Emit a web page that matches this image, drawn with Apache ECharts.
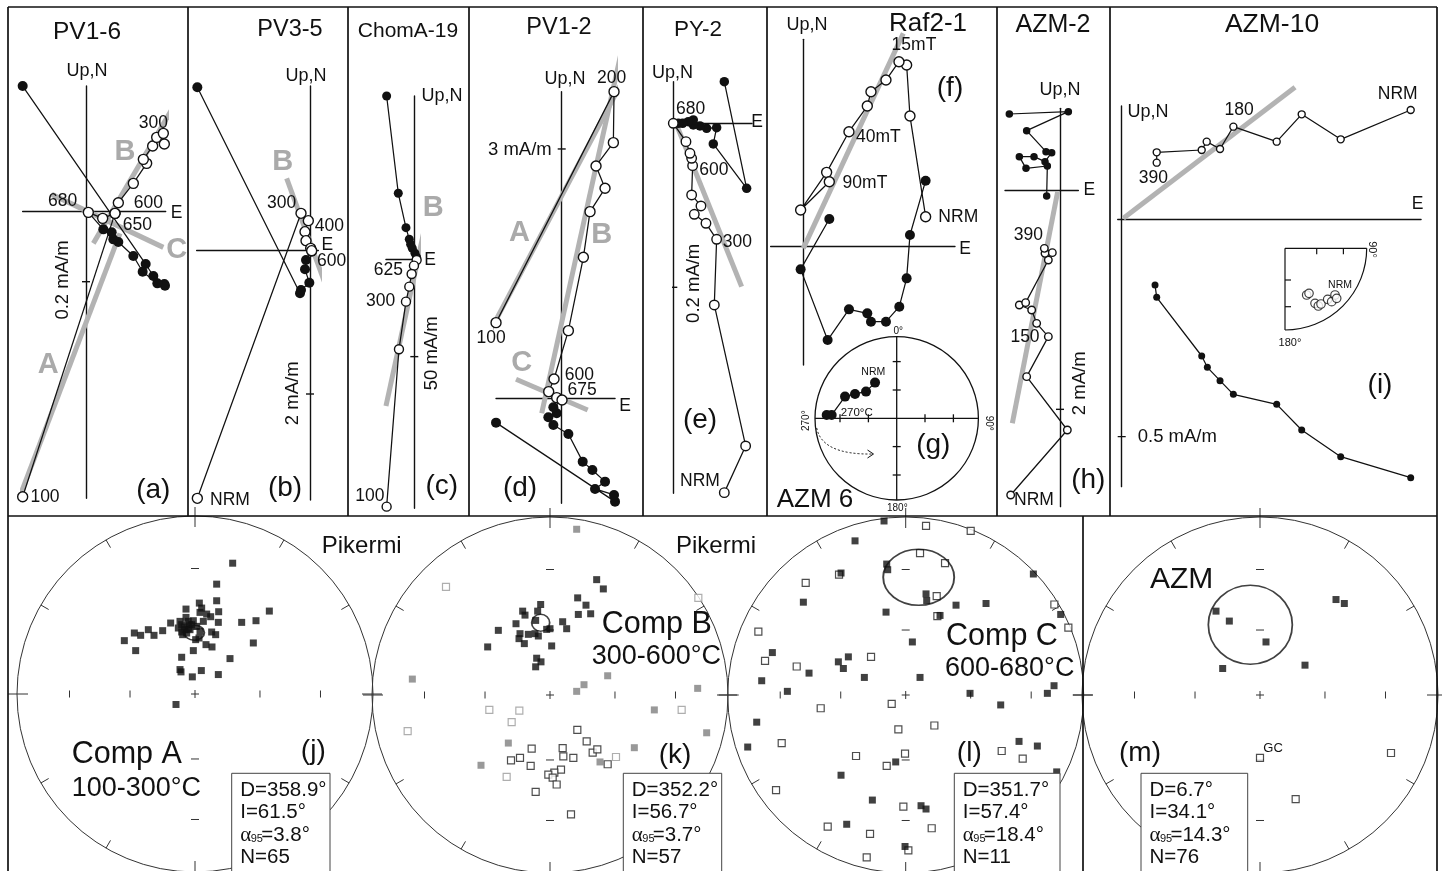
<!DOCTYPE html>
<html><head><meta charset="utf-8">
<script src="https://cdn.jsdelivr.net/npm/echarts@6/dist/echarts.min.js"></script>
<style>html,body{margin:0;padding:0;background:#fff}#c{width:1442px;height:871px}</style>
</head><body><div id="c"></div>
<script>
// ---------- Zijderveld data (relative intensity units, origin = axis crossing) ----------
const pv16Filled = [[[-190,377],[179,-157],[202,-193],[235,-217],[237,-222],[214,-215],[170,-180],[142,-133],[97,-91],[82,-83],[77,-62],[52,-53],[7,-2]]];
const pv16Open = [[[-190,-855],[87,-5]],[[7,-2],[50,-20],[87,-5],[97,27],[142,85],[182,145],[172,157],[200,197],[212,223],[232,235],[235,203]]];
const pv16Gray = [[[-218,-905],[102,-65]],[[22,-95],[277,340]],[[-103,52],[232,-107]]];
const pv16Labels = [[202,265,'300'],[187,25,'600'],[-70,33,'680'],[154,-40,'650'],[-123,-855,'100'],[272,-5,'E']];
const pv16Letters = [[-113,-460,'A'],[117,180,'B'],[272,-115,'C']];

const pv35Filled = [[[-338,488],[-30,-130],[-27,-120],[-2,-98],[-15,-58],[-12,-30],[5,-5]]];
const pv35Open = [[[-338,-745],[-27,110],[-5,88],[-15,55],[-12,28],[2,5],[5,-2]]];
const pv35Gray = [[[-70,215],[65,-155]]];
const pv35Labels = [[-85,140,'300'],[58,70,'400'],[65,-35,'600'],[52,15,'E'],[-240,-750,'NRM']];
const pv35Letters = [[-82,265,'B']];

const chomFilled = [[[-83,490],[-48,198],[-25,95],[-15,60],[-11,45],[-6,33],[2,18],[7,6]]];
const chomOpen = [[[7,-2],[-1,-19],[-8,-44],[-15,-82],[-25,-127],[-46,-270],[-83,-742]]];
const chomGray = [[[32,98],[-85,-440]]];
const chomLabels = [[-78,-34,'625'],[-101,-127,'300'],[-133,-710,'100'],[47,-4,'E']];
const chomLetters = [[57,153,'B']];

const pv12Open = [[[-197,227],[157,920],[155,767],[103,697],[130,630],[85,560],[65,423],[20,203],[-23,58],[-39,20],[-15,2],[1,-5]]];
const pv12Filled = [[[-197,-73],[160,-310],[157,-290],[100,-272],[130,-250],[92,-215],[63,-190],[20,-107],[-25,-80],[-40,-57],[-15,-45],[-25,-27],[1,-5]]];
const pv12Gray = [[[-245,145],[200,985]],[[-60,-45],[180,1045]],[[-137,57],[78,-35]]];
const pv12Labels = [[150,960,'200'],[-212,180,'100'],[53,68,'600'],[61,23,'675'],[190,-25,'E']];
const pv12Letters = [[-127,495,'A'],[120,490,'B'],[-120,105,'C']];

const py2Filled = [[[153,125],[220,-195],[120,-62],[130,-13],[100,-15],[80,-8],[60,-5],[60,10],[45,5],[28,0],[15,0],[0,0]]];
const py2Open = [[[153,-1108],[217,-968],[123,-545],[130,-348],[98,-300],[63,-273],[83,-248],[55,-215],[58,-127],[55,-105],[50,-90],[38,-55],[0,0]]];
const py2Gray = [[[10,-5],[205,-490]]];
const py2Labels = [[52,42,'680'],[122,-140,'600'],[192,-358,'300'],[80,-1075,'NRM'],[251,4,'E']];

const rafOpen = [[[367,90],[320,392],[310,545],[287,555],[248,500],[203,465],[192,422],[137,345],[70,223],[-8,110],[78,195]]];
const rafFilled = [[[367,198],[320,35],[310,-95],[288,-180],[248,-225],[203,-225],[192,-200],[137,-188],[73,-280],[-8,-68],[78,83]]];
const rafGray = [[[300,640],[0,-5]]];
const rafLabels = [[332,605,'15mT'],[225,330,'40mT'],[185,192,'90mT'],[465,90,'NRM'],[485,-8,'E']];

const azm2Filled = [[[-152,228],[25,235],[-100,178],[-42,115],[-25,112],[-45,85],[-78,100],[-122,100],[-102,65],[-38,72],[-40,-18]]];
const azm2Open = [[[-148,-915],[22,-720],[-100,-560],[-35,-440],[-70,-400],[-85,-360],[-122,-345],[-103,-338],[-35,-210],[-45,-190],[-23,-188],[-47,-175]]];
const azm2Gray = [[[-143,-700],[-7,-5]]];
const azm2Labels = [[-95,-135,'390'],[-105,-442,'150'],[-78,-930,'NRM'],[88,-2,'E']];

const azm10Open = [[[867,327],[657,239],[540,314],[465,232],[335,277],[295,210],[255,232],[240,207],[105,200],[105,169]]];
const azm10Filled = [[[100,-198],[105,-235],[240,-411],[257,-445],[295,-485],[335,-526],[465,-556],[540,-633],[657,-713],[867,-776]]];
const azm10Gray = [[[5,2],[520,395]]];
const azm10Labels = [[828,374,'NRM'],[352,327,'180'],[95,122,'390'],[888,45,'E']];

// insets
const azm6Dirs = [[-65,107],[-92,80],[-125,73],[-155,65],[-195,10],[-210,10]];
const azm10Dirs = [[65,-140],[72,-135],[90,-165],[100,-173],[108,-167],[128,-153],[140,-160],[150,-140],[155,-150]];

// ---------- Stereonet data (projected units, centre = 0) ----------
const jFilled = [[113,392],[65,329],[65,279],[13,272],[20,257],[-27,254],[15,244],[35,239],[71,246],[223,248],[47,231],[25,217],[70,214],[140,214],[183,219],[-73,212],[-27,229],[-40,207],[-20,217],[-10,207],[5,202],[-30,192],[-15,192],[-40,185],[-25,182],[15,187],[-97,189],[-140,192],[-123,175],[-163,175],[-182,182],[-212,159],[-178,129],[50,185],[62,177],[12,167],[2,162],[-37,177],[33,147],[51,140],[-5,129],[175,152],[-40,109],[105,105],[-45,72],[-42,65],[19,69],[-8,50],[70,57],[-57,-33],[-50,197],[-5,219],[-17,207],[-45,217],[-32,200],[-20,195]];
const jMean = [[-2,183]];
const kFilled = [[140,345],[160,317],[83,290],[108,268],[85,240],[122,242],[-28,270],[-37,250],[-82,250],[-75,238],[-43,222],[-102,212],[38,218],[50,197],[0,197],[-10,195],[-155,192],[-90,182],[-65,180],[-45,182],[-35,175],[-93,167],[-77,152],[-187,142],[5,145],[-40,108],[-27,97],[-43,82]];
const kGray = [[80,497],[-413,45],[173,55],[102,28],[80,8],[443,17],[313,-48],[470,-117],[-125,-148],[253,-162],[-207,-215],[150,-205]];
const kOpenLight = [[-312,323],[445,290],[-182,-48],[-92,-50],[-115,-85],[-427,-112],[395,-48],[-130,-250],[198,-190]];
const kOpenDark = [[82,-108],[110,-143],[128,-177],[142,-167],[38,-163],[40,-188],[70,-193],[-117,-200],[-90,-193],[-55,-165],[-58,-217],[33,-228],[13,-237],[-5,-243],[8,-252],[20,-273],[-43,-295],[63,-363],[173,-212]];
const kMean = [[-28,215]];
const lFilled = [[-65,522],[-152,462],[-194,365],[-57,392],[-54,375],[383,362],[61,302],[63,282],[-307,277],[151,268],[241,273],[-59,247],[465,240],[103,237],[20,157],[-400,125],[-202,97],[-172,112],[-187,77],[-290,63],[-432,40],[-124,50],[43,50],[-355,8],[193,2],[445,25],[425,2],[285,-33],[-447,-85],[-474,-160],[340,-143],[395,-157],[-30,-205],[-194,-245],[-100,-320],[46,-337],[61,-347],[-177,-393],[-2,-460],[453,-235]];
const lOpen = [[61,507],[195,492],[43,425],[118,395],[-200,360],[-300,335],[93,295],[446,270],[95,235],[488,200],[-442,188],[-422,100],[-327,83],[-104,112],[-255,-43],[-42,-30],[86,-95],[-22,-107],[-372,-148],[288,-172],[351,-195],[-149,-187],[-2,-180],[-57,-217],[-389,-290],[-7,-340],[-234,-400],[-107,-422],[78,-405],[-117,-493],[8,-472]];
const lMean = [[39,352]];
const mFilled = [[228,285],[253,273],[-132,250],[-92,220],[18,157],[-112,77],[135,87]];
const mOpen = [[0,-193],[393,-178],[107,-317]];
const mMean = [[-29,209]];

const statsJ = ['D=358.9°','I=61.5°','=3.8°','N=65'];
const statsK = ['D=352.2°','I=56.7°','=3.7°','N=57'];
const statsL = ['D=351.7°','I=57.4°','=18.4°','N=11'];
const statsM = ['D=6.7°','I=34.1°','=14.3°','N=76'];

// ---------- build ----------
const K = 1/3;
const FF = '"Liberation Sans", Arial, sans-serif';
const LBL = 17.5, SCL = 18.5, UPN = 18, LET = 28;
const grids=[], xAxes=[], yAxes=[], series=[], G=[];

function addGrid(left, top, w, h, xr, yr, showAxes){
  const i = grids.length;
  grids.push({left, top, width:w, height:h, containLabel:false});
  const ax = r => ({type:'value', gridIndex:i, min:r[0], max:r[1],
    axisLine:{show:showAxes, onZero:true, lineStyle:{color:'#111', width:1.4}},
    axisTick:{show:false}, axisLabel:{show:false}, splitLine:{show:false}});
  xAxes.push(ax(xr)); yAxes.push(ax(yr));
  return i;
}
function poly(gi, data, kind, sym){
  const s = {type:'line', xAxisIndex:gi, yAxisIndex:gi, data, clip:false, animation:false, silent:true, showAllSymbol:true};
  if(kind==='gray'){ Object.assign(s,{symbol:'none', lineStyle:{color:'#b3b3b3', width:5}, z:1}); }
  else if(kind==='plain'){ Object.assign(s,{symbol:'none', lineStyle:{color:'#111', width:1.4}, z:2}); }
  else if(kind==='open'){ Object.assign(s,{symbol:'circle', symbolSize:sym, lineStyle:{color:'#111', width:1.25}, itemStyle:{color:'#fff', borderColor:'#111', borderWidth:1.4}, z:4}); }
  else { Object.assign(s,{symbol:'circle', symbolSize:sym, lineStyle:{color:'#111', width:1.25}, itemStyle:{color:'#111'}, z:3}); }
  series.push(s);
}
function scat(gi, data, fill, stroke, size, sym){
  series.push({type:'scatter', xAxisIndex:gi, yAxisIndex:gi, data, symbol:sym||'rect', symbolSize:size,
    itemStyle:{color:fill, borderColor:stroke||fill, borderWidth:stroke?1.2:0}, clip:false, silent:true, animation:false, z:3});
}
function txt(x, y, s, size, o){
  o = o||{};
  G.push({type:'text', x, y, rotation:o.rot||0, z:o.z||50, silent:true,
    style:{text:s, font:(o.bold?'bold ':'')+size+'px '+(o.family||FF), fill:o.color||'#111',
      align:o.align||'center', verticalAlign:'middle', textAlign:o.align||'center', textVerticalAlign:'middle'}});
}
function seg(x1,y1,x2,y2,w,c,z){ G.push({type:'line', silent:true, z:z||1, shape:{x1,y1,x2,y2}, style:{stroke:c||'#111', lineWidth:w||1.3}}); }

const zij = [
 {o:[86,211.7], xr:[-190,239], yr:[-860,377], tick:-210, sym:10, f:pv16Filled, op:pv16Open, g:pv16Gray, lb:pv16Labels, lt:pv16Letters},
 {o:[310,250], xr:[-340,25], yr:[-750,492], tick:-432, sym:10, f:pv35Filled, op:pv35Open, g:pv35Gray, lb:pv35Labels, lt:pv35Letters},
 {o:[414.3,259.3], xr:[-85,10], yr:[-747,490], tick:-292, sym:9, f:chomFilled, op:chomOpen, g:chomGray, lb:chomLabels, lt:chomLetters},
 {o:[561.7,398.3], xr:[-197,160], yr:[-315,920], tick:748, sym:10, f:pv12Filled, op:pv12Open, g:pv12Gray, lb:pv12Labels, lt:pv12Letters},
 {o:[673.3,123.3], xr:[0,236], yr:[-1110,125], tick:-492, sym:9.5, f:py2Filled, op:py2Open, g:py2Gray, lb:py2Labels, lt:[]},
 {o:[803.3,246.7], xr:[-98,455], yr:[-355,622], tick:null, sym:10, f:rafFilled, op:rafOpen, g:rafGray, lb:rafLabels, lt:[]},
 {o:[1060,190], xr:[-165,55], yr:[-950,245], tick:-658, sym:7.5, f:azm2Filled, op:azm2Open, g:azm2Gray, lb:azm2Labels, lt:[]},
 {o:[1121.7,219], xr:[-12,898], yr:[-803,339], tick:-653, sym:7, f:azm10Filled, op:azm10Open, g:azm10Gray, lb:azm10Labels, lt:[]}
];
zij.forEach(p=>{
  const [ox,oy] = p.o;
  const gi = addGrid(ox+p.xr[0]*K, oy-p.yr[1]*K, (p.xr[1]-p.xr[0])*K, (p.yr[1]-p.yr[0])*K, p.xr, p.yr, true);
  p.g.forEach(s=>poly(gi,s,'gray'));
  if(p.tick!==null) poly(gi,[[-12,p.tick],[12,p.tick]],'plain');
  p.f.forEach(s=>poly(gi,s,'filled',p.sym));
  p.op.forEach(s=>poly(gi,s,'open',p.sym));
  p.lb.forEach(([x,y,t])=>txt(ox+x*K, oy-y*K, t, LBL));
  p.lt.forEach(([x,y,t])=>txt(ox+x*K, oy-y*K, t, 29, {color:'#aaa', bold:true}));
});

// titles, axis names, scale labels, panel letters
[['PV1-6',87,32,24.5],['PV3-5',290,30,23.5],['ChomA-19',408,31,21],['PV1-2',559,28,23.5],['PY-2',698,30,22.5],['Raf2-1',928,24,26],['AZM-2',1053,25,25],['AZM-10',1272,25,26.5]]
 .forEach(([t,x,y,s])=>txt(x,y,t,s));
[[87,71],[306,76],[442,96],[565,79],[672.5,72.7],[807,25],[1060,90],[1148,112]].forEach(([x,y])=>txt(x,y,'Up,N',UPN));
txt(63.3,280,'0.2 mA/m',SCL,{rot:Math.PI/2});
txt(293.3,393.3,'2 mA/m',SCL,{rot:Math.PI/2});
txt(431.7,353.3,'50 mA/m',SCL,{rot:Math.PI/2});
txt(551.7,150,'3 mA/m',SCL,{align:'right'});
txt(694.3,283.3,'0.2 mA/m',SCL,{rot:Math.PI/2});
txt(1080,383.3,'2 mA/m',SCL,{rot:Math.PI/2});
txt(1137.7,436.7,'0.5 mA/m',SCL,{align:'left'});
[['(a)',153.3,490],['(b)',285,488.3],['(c)',441.7,486.7],['(d)',520,488.3],['(e)',700,420.7],['(f)',950,88.3],['(h)',1088.3,480],['(i)',1380,385]]
 .forEach(([t,x,y])=>txt(x,y,t,LET));

// inset (g) stereonet
(function(){
  const cx=896.7, cy=418.3, r=81.7;
  G.push({type:'circle', silent:true, z:1, shape:{cx,cy,r}, style:{fill:'#fff', stroke:'#111', lineWidth:1.3}});
  seg(cx,cy-r,cx,cy+r,1.3); seg(cx-r,cy,cx+r,cy,1.3);
  [28.3,56.7].forEach(d=>{ [1,-1].forEach(sg=>{ seg(cx-4,cy+sg*d,cx+4,cy+sg*d,1.3); seg(cx+sg*d,cy-4,cx+sg*d,cy+4,1.3); }); });
  const gi = addGrid(cx-r, cy-r, 2*r, 2*r, [-245,245], [-245,245], false);
  poly(gi, azm6Dirs, 'filled', 10);
  txt(898.3,331.5,'0°',10); txt(897.3,508.5,'180°',10);
  txt(806,420.7,'270°',10,{rot:Math.PI/2}); txt(988.3,423.3,'90°',10,{rot:-Math.PI/2});
  txt(873.3,371.7,'NRM',10.5); txt(856.7,412.7,'270°C',11.5);
  txt(933.3,445,'(g)',LET); txt(815,500,'AZM 6',26);
  G.push({type:'bezierCurve', silent:true, z:2, shape:{x1:816.7,y1:428,cpx1:822,cpy1:455,x2:873,y2:454}, style:{stroke:'#111', lineWidth:1, lineDash:[2,2], fill:null}});
  G.push({type:'polyline', silent:true, z:2, shape:{points:[[867.5,450],[873.5,454],[867.5,458]]}, style:{stroke:'#111', lineWidth:1, fill:null}});
})();

// inset in (i)
(function(){
  const x0=1285, y0=248.3, r=81.7;
  seg(x0,y0,x0,y0+r,1.2); seg(x0,y0,x0+r,y0,1.2);
  G.push({type:'arc', silent:true, z:1, shape:{cx:x0,cy:y0,r,startAngle:0,endAngle:Math.PI/2,clockwise:true}, style:{stroke:'#111', lineWidth:1.2, fill:null}});
  [31.7,58.4].forEach(d=>{ seg(x0,y0+d,x0+6,y0+d,1.2); seg(x0+d,y0,x0+d,y0+6,1.2); });
  const gi = addGrid(x0, y0, r, r, [0,245], [-245,0], false);
  scat(gi, azm10Dirs, '#fff', '#111', 8.5, 'circle');
  txt(1340,285,'NRM',10.5); txt(1372,249.5,'90°',11,{rot:-Math.PI/2}); txt(1290,343.3,'180°',11);
})();

// bottom stereonets
const R = 178;
function net(cx, cy){
  G.push({type:'circle', silent:true, z:0, shape:{cx,cy,r:R}, style:{fill:'none', stroke:'#333', lineWidth:1}});
  for(let a=0;a<360;a+=30){
    const t=a*Math.PI/180, s=Math.sin(t), c=-Math.cos(t);
    const card = a%90===0;
    const r1 = card? R-11 : R-9, r2 = card? R+9 : R;
    seg(cx+s*r1, cy+c*r1, cx+s*r2, cy+c*r2, 1, '#333', 1);
  }
  [0.365,0.705].forEach(f=>{ const d=f*R; [1,-1].forEach(sg=>{
    seg(cx+sg*d, cy-3.5, cx+sg*d, cy+3.5, 1, '#333', 1);
    seg(cx-4, cy+sg*d, cx+4, cy+sg*d, 1, '#333', 1);
  }); });
  seg(cx-4,cy,cx+4,cy,1,'#333',1); seg(cx,cy-4,cx,cy+4,1,'#333',1);
  return addGrid(cx-R, cy-R, 2*R, 2*R, [-534,534], [-534,534], false);
}
function ellipse(gi, data, size){
  series.push({type:'scatter', xAxisIndex:gi, yAxisIndex:gi, data, symbol:'circle', symbolSize:size,
    itemStyle:{color:'rgba(0,0,0,0)', borderColor:'#111', borderWidth:1.7}, clip:false, silent:true, animation:false, z:5});
}
function stats(L, w, lines){
  G.push({type:'rect', silent:true, z:60, shape:{x:L, y:773.3, width:w, height:110}, style:{fill:'#fff', stroke:'#444', lineWidth:1}});
  const x = L+8.5;
  txt(x, 790, lines[0], 20.5, {align:'left', z:61});
  txt(x, 812, lines[1], 20.5, {align:'left', z:61});
  txt(x, 835, 'α', 21, {align:'left', z:61, family:'"Liberation Serif", "DejaVu Serif", serif'});
  txt(x+10.5, 839, '95', 11, {align:'left', z:61});
  txt(x+21, 835, lines[2], 20.5, {align:'left', z:61});
  txt(x, 857, lines[3], 20.5, {align:'left', z:61});
}

let gi;
gi = net(195,694);
scat(gi, jFilled, '#111', null, 7);
ellipse(gi, jMean, [20,15]);
gi = net(550,695);
scat(gi, kGray, '#808080', null, 7);
scat(gi, kOpenLight, '#fff', '#9a9a9a', 7);
scat(gi, kOpenDark, '#fff', '#222', 7);
scat(gi, kFilled, '#111', null, 7);
ellipse(gi, kMean, [18,17]);
gi = net(905.7,695);
scat(gi, lOpen, '#fff', '#222', 7);
scat(gi, lFilled, '#111', null, 7);
ellipse(gi, lMean, [71,56]);
gi = net(1260,695);
scat(gi, mOpen, '#fff', '#222', 7);
scat(gi, mFilled, '#111', null, 7);
ellipse(gi, mMean, [84,79]);

txt(361.7,546.7,'Pikermi',24); txt(716,546.7,'Pikermi',24);
txt(71.7,755,'Comp A',30.5,{align:'left'}); txt(71.7,788.3,'100-300°C',27,{align:'left'});
txt(601.7,625,'Comp B',30.5,{align:'left'}); txt(591.7,656.7,'300-600°C',27,{align:'left'});
txt(946,636.7,'Comp C',30.5,{align:'left'}); txt(945,668.3,'600-680°C',27,{align:'left'});
txt(1150,580,'AZM',30,{align:'left'});
txt(313.3,751.7,'(j)',28); txt(675,755,'(k)',28); txt(969.3,753.3,'(l)',28); txt(1140,753.3,'(m)',28);
txt(1263.3,748.3,'GC',13,{align:'left'});
stats(231.7, 98.3, statsJ);
stats(623.3, 98.4, statsK);
stats(954.3, 105.7, statsL);
stats(1141, 106.7, statsM);

// frame
seg(8,7,1437,7,1.7,'#111',70); seg(8,516,1437,516,1.7,'#111',70);
seg(8,7,8,871,1.7,'#111',70); seg(1437,7,1437,871,1.7,'#111',70);
[188,348,469,643,767,997,1110].forEach(x=>seg(x,7,x,516,1.7,'#111',70));
seg(1083,516,1083,871,1.7,'#111',70);

const chart = echarts.init(document.getElementById('c'), null, {renderer:'canvas'});
chart.setOption({animation:false, backgroundColor:'#fff', grid:grids, xAxis:xAxes, yAxis:yAxes, series, graphic:{elements:G}});
</script></body></html>
